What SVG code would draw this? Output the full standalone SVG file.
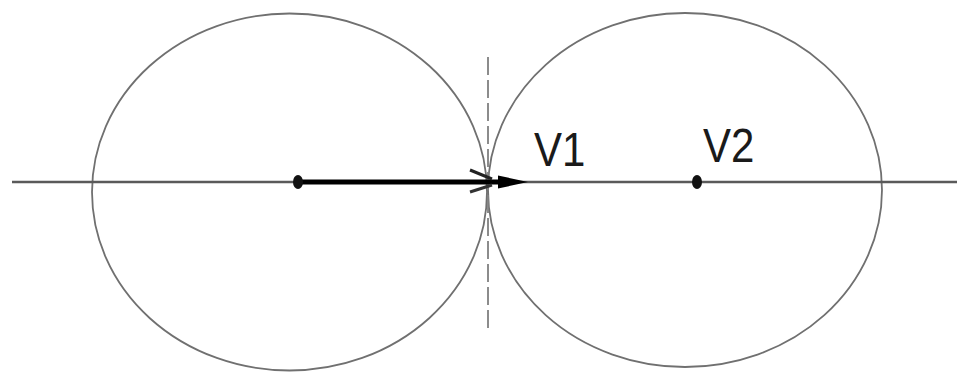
<svg xmlns="http://www.w3.org/2000/svg" width="957" height="374" viewBox="0 0 957 374">
<defs>
<style>
.ell{fill:none;stroke:#707070;stroke-width:1.8}
.lbl{font-family:"Liberation Sans",Arial,sans-serif;font-size:42px;fill:#1a1a1a}
.dot{fill:#111}
</style>
</defs>
<rect width="957" height="374" fill="#fff"/>
<g id="left-ellipse"><ellipse class="ell" cx="289.5" cy="192" rx="197.5" ry="178.5"/></g>
<g id="right-ellipse"><ellipse class="ell" cx="685" cy="190" rx="197" ry="177"/></g>
<g id="connectors">
<line x1="12" y1="182" x2="957" y2="182" stroke="#5a5a5a" stroke-width="2.5"/>
<line x1="488" y1="57" x2="488" y2="328" stroke="#808080" stroke-width="1.8" stroke-dasharray="18,5"/>
<line x1="298" y1="182" x2="500" y2="182" stroke="#000" stroke-width="5"/>
<polygon points="498,175.5 528,182 498,188.5" fill="#000"/>
<polyline points="470,170 492,179" fill="none" stroke="#222" stroke-width="3"/>
<polyline points="470,192 492,185" fill="none" stroke="#333" stroke-width="3"/>
</g>
<g id="v1-point"><ellipse class="dot" cx="298" cy="182" rx="5" ry="7"/><text class="lbl" transform="translate(534,166) scale(1,1.15)">V1</text></g>
<g id="v2-point"><ellipse class="dot" cx="697" cy="182" rx="5" ry="7"/><text class="lbl" transform="translate(703,162) scale(1,1.15)">V2</text></g>
</svg>
